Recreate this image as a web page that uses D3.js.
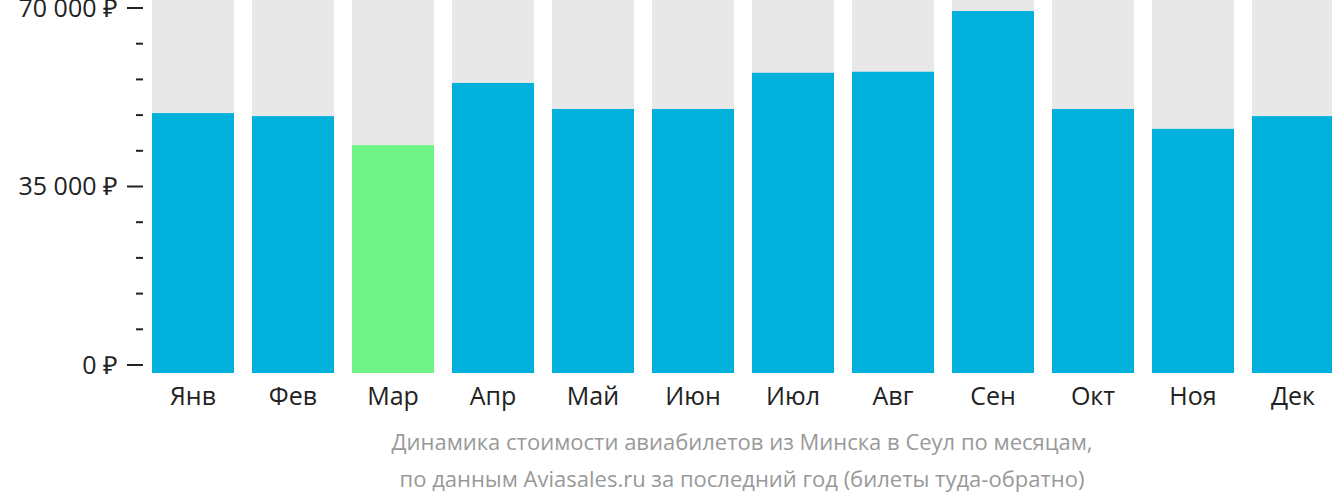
<!DOCTYPE html><html><head><meta charset="utf-8">
<script src="https://cdn.jsdelivr.net/npm/d3@7"></script>
<style>body{margin:0;background:#fff}svg{font-family:"Open Sans",sans-serif}</style></head><body>
<svg id="c" width="1332" height="502"></svg>
<script>
const months=["Янв","Фев","Мар","Апр","Май","Июн","Июл","Авг","Сен","Окт","Ноя","Дек"];
const prices=[49400,48800,43100,55300,50200,50200,57300,57500,69400,50200,46300,48800];
const highlight=["Мар"];
const majorTicks=[0,35000,70000];
const caption=["Динамика стоимости авиабилетов из Минска в Сеул по месяцам,","по данным Aviasales.ru за последний год (билеты туда-обратно)"];
const svg=d3.select("#c");
const x=d3.scaleBand().domain(months).range([143,1343]).paddingInner(0.18).paddingOuter(0.09);
const y=d3.scaleLinear().domain([0,70000]).range([365,8]);
const base=373;
svg.selectAll(".bg").data(months).join("rect").attr("x",d=>x(d)).attr("y",0).attr("width",x.bandwidth()).attr("height",base).attr("fill","#e8e8e8");
svg.selectAll(".b").data(prices).join("rect").attr("x",(d,i)=>x(months[i])).attr("y",d=>y(d)).attr("width",x.bandwidth()).attr("height",d=>base-y(d)).attr("fill",(d,i)=>highlight.includes(months[i])?"#6ef387":"#02b0dc");
const fmt=v=>(v===0?"0":d3.format(",")(v).replace(/,/g," "))+" ₽";
const minor=d3.range(0,70001,7000);
svg.selectAll(".mt").data(minor).join("line").attr("x1",d=>majorTicks.includes(d)?127:136).attr("x2",143).attr("y1",d=>y(d)).attr("y2",d=>y(d)).attr("stroke","#222").attr("stroke-width",2);
svg.selectAll(".tl").data(majorTicks).join("text").attr("x",118).attr("y",d=>y(d)).attr("dy","0.35em").attr("text-anchor","end").attr("font-size",25).attr("fill","#222").text(fmt);
svg.selectAll(".ml").data(months).join("text").attr("x",d=>x(d)+x.bandwidth()/2).attr("y",405).attr("text-anchor","middle").attr("font-size",25).attr("fill","#222").text(d=>d);
svg.selectAll(".cap").data(caption).join("text").attr("x",742).attr("y",(d,i)=>450+i*37).attr("text-anchor","middle").attr("font-size",22).attr("fill","#999").text(d=>d);
</script></body></html>
